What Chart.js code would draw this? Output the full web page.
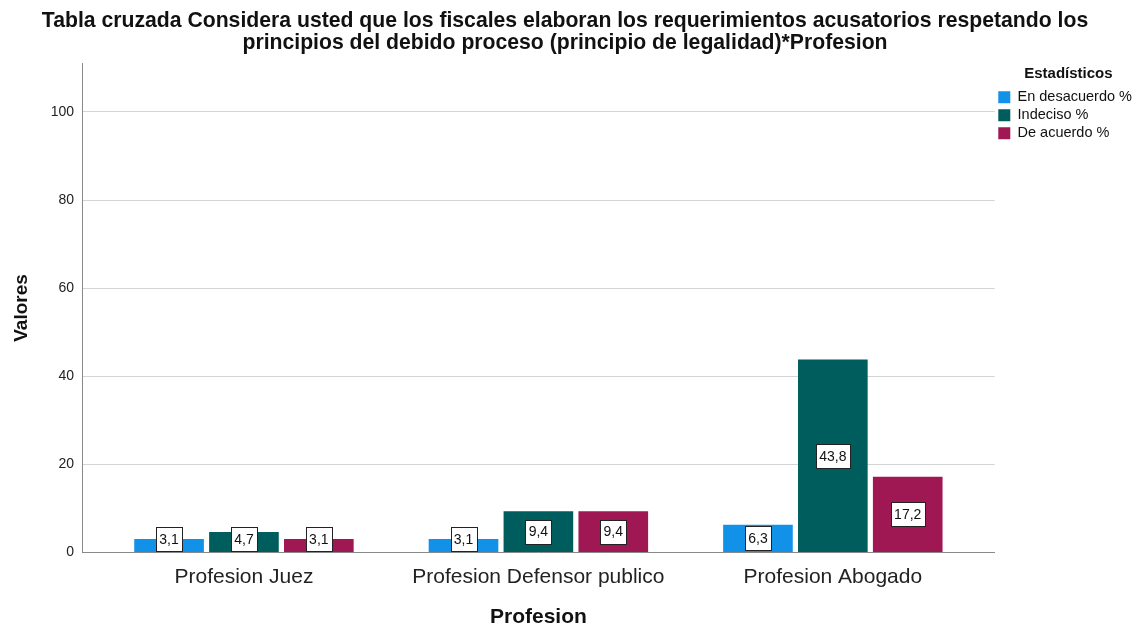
<!DOCTYPE html>
<html>
<head>
<meta charset="utf-8">
<title>Tabla cruzada Profesion</title>
<script src="https://cdn.jsdelivr.net/npm/chart.js@4/dist/chart.umd.min.js"></script>
<style>
  body { margin: 0; background: #fff; }
  canvas { display: block; }
</style>
</head>
<body>
<canvas id="profChart" width="1134" height="627"></canvas>
<script>
// Data
const categories = ['Profesion Juez', 'Profesion Defensor publico', 'Profesion Abogado'];
const seriesNames = ['En desacuerdo %', 'Indeciso %', 'De acuerdo %'];
const enDesacuerdo = [3.1, 3.1, 6.3];
const indeciso = [4.7, 9.4, 43.8];
const deAcuerdo = [3.1, 9.4, 17.2];
const yTicks = [0, 20, 40, 60, 80, 100];
const colors = ['#1192e8', '#005d5d', '#9f1853'];

const FONT = "'Liberation Sans', Arial, sans-serif";

function toPoints(values) {
  return values.map((v, i) => ({ x: i, y: v }));
}

// White boxed value labels in the middle of each bar
const valueLabels = {
  id: 'valueLabels',
  afterDatasetsDraw(chart) {
    const ctx = chart.ctx;
    ctx.save();
    ctx.font = '14px ' + FONT;
    ctx.textAlign = 'center';
    ctx.textBaseline = 'middle';
    chart.data.datasets.forEach((ds, di) => {
      const meta = chart.getDatasetMeta(di);
      meta.data.forEach((bar, i) => {
        const txt = ds.data[i].y.toFixed(1).replace('.', ',');
        const w = Math.round(ctx.measureText(txt).width) + 7;
        const h = 24;
        let cy = (bar.y + bar.base) / 2;
        if (cy + h / 2 > bar.base - 1) cy = bar.base - 1 - h / 2;
        const x0 = Math.round(bar.x - w / 2) + 0.5;
        const y0 = Math.round(cy - h / 2) + 0.5;
        ctx.fillStyle = '#ffffff';
        ctx.fillRect(x0, y0, w, h);
        ctx.strokeStyle = '#222';
        ctx.lineWidth = 1;
        ctx.strokeRect(x0, y0, w, h);
        ctx.fillStyle = '#111';
        ctx.fillText(txt, bar.x, cy + 1);
      });
    });
    ctx.restore();
  }
};

const ctx = document.getElementById('profChart').getContext('2d');
new Chart(ctx, {
  type: 'bar',
  data: {
    datasets: [
      { label: seriesNames[0], data: toPoints(enDesacuerdo), backgroundColor: colors[0] },
      { label: seriesNames[1], data: toPoints(indeciso), backgroundColor: colors[1] },
      { label: seriesNames[2], data: toPoints(deAcuerdo), backgroundColor: colors[2] }
    ]
  },
  options: {
    responsive: false,
    animation: false,
    categoryPercentage: 0.763,
    barPercentage: 0.93,
    layout: { padding: { left: -12, right: -8, top: 0, bottom: -3 } },
    scales: {
      x: {
        type: 'linear',
        offset: false,
        min: -0.55,
        max: 2.55,
        afterBuildTicks: scale => {
          scale.ticks = categories.map((c, i) => ({ value: i }));
        },
        grid: { display: false, drawTicks: false },
        border: { display: true, color: '#888', width: 1 },
        ticks: {
          callback: value => categories[value],
          color: '#222',
          padding: 12,
          maxRotation: 0,
          font: { family: FONT, size: 21 }
        },
        title: {
          display: true,
          text: 'Profesion',
          color: '#111',
          padding: { top: 3, bottom: 0 },
          font: { family: FONT, size: 21, weight: 'bold' }
        }
      },
      y: {
        min: 0,
        max: 111,
        afterBuildTicks: scale => {
          scale.ticks = yTicks.map(v => ({ value: v }));
        },
        afterFit: scale => {
          scale.width = 94;
        },
        grid: { color: '#d4d4d4', drawTicks: false },
        border: { display: true, color: '#888', width: 1 },
        ticks: {
          color: '#222',
          padding: 8,
          font: { family: FONT, size: 14 }
        },
        title: {
          display: true,
          text: 'Valores',
          color: '#111',
          padding: { top: 22, bottom: 0 },
          font: { family: FONT, size: 19, weight: 'bold' }
        }
      }
    },
    plugins: {
      title: {
        display: true,
        text: [
          'Tabla cruzada Considera usted que los fiscales elaboran los requerimientos acusatorios respetando los',
          'principios del debido proceso (principio de legalidad)*Profesion'
        ],
        color: '#111',
        padding: { top: 11, bottom: 10 },
        font: { family: FONT, size: 21.2, weight: 'bold', lineHeight: 1.0 }
      },
      legend: {
        position: 'right',
        align: 'start',
        fullSize: false,
        title: {
          display: true,
          text: 'Estadísticos',
          color: '#111',
          padding: { top: 3, bottom: 2 },
          font: { family: FONT, size: 15, weight: 'bold' }
        },
        labels: {
          boxWidth: 12,
          boxHeight: 12,
          padding: 3.5,
          color: '#111',
          font: { family: FONT, size: 14.5 }
        }
      },
      tooltip: { enabled: false }
    }
  },
  plugins: [valueLabels]
});
</script>
</body>
</html>
